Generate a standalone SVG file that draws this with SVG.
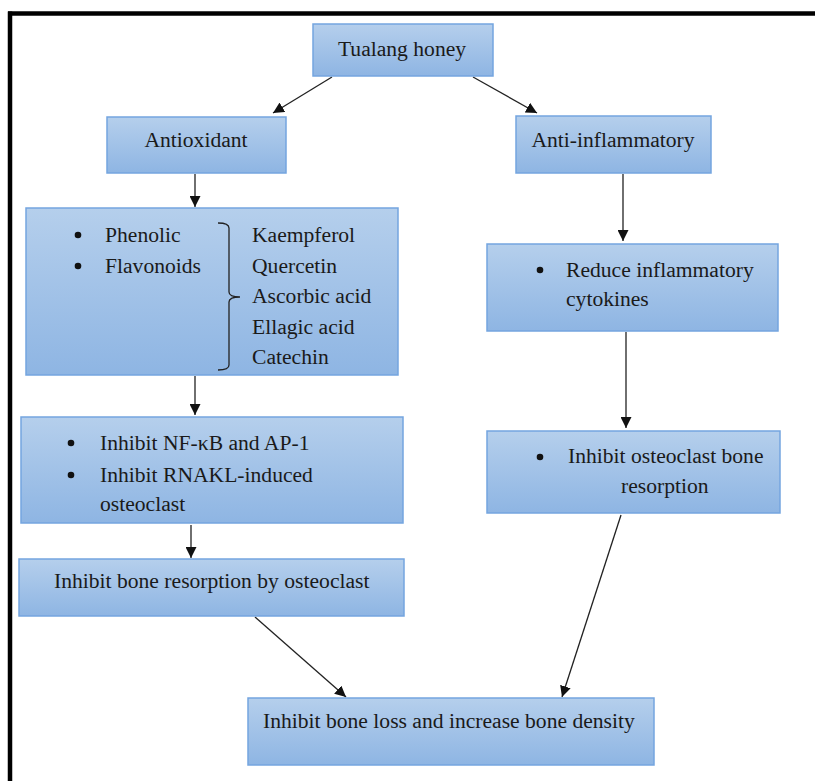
<svg xmlns="http://www.w3.org/2000/svg" width="815" height="781" viewBox="0 0 815 781">
<defs>
<linearGradient id="g" x1="0" y1="0" x2="0" y2="1">
<stop offset="0" stop-color="#b5cfec"/>
<stop offset="1" stop-color="#8eb5e3"/>
</linearGradient>
<marker id="ah" viewBox="0 0 10 10" refX="10" refY="5" markerWidth="11" markerHeight="11" markerUnits="userSpaceOnUse" orient="auto">
<path d="M0,0 L10,5 L0,10 Z" fill="#111"/>
</marker>
<style>
.box{fill:url(#g);stroke:#74a5df;stroke-width:1.5}
text{font-family:"Liberation Serif","Times New Roman",serif;font-size:21.6px;fill:#1a1a1a}
.c{text-anchor:middle}
.ln{stroke:#222;stroke-width:1.3;fill:none;marker-end:url(#ah)}
</style>
</defs>
<rect width="815" height="781" fill="#fff"/>
<g id="frame">
<line x1="8" y1="13.5" x2="815" y2="13.5" stroke="#000" stroke-width="4.5"/>
<line x1="10" y1="11.5" x2="10" y2="781" stroke="#000" stroke-width="4.5"/>
</g>
<g id="connectors">
<line class="ln" x1="332" y1="77" x2="273" y2="113"/>
<line class="ln" x1="473" y1="77" x2="537" y2="113"/>
<line class="ln" x1="195" y1="174" x2="195" y2="207"/>
<line class="ln" x1="623" y1="174" x2="623" y2="241"/>
<line class="ln" x1="195" y1="376" x2="195" y2="415"/>
<line class="ln" x1="191" y1="525" x2="191" y2="558"/>
<line class="ln" x1="626" y1="332" x2="626" y2="428"/>
<line class="ln" x1="255" y1="617" x2="346" y2="697"/>
<line class="ln" x1="621" y1="515" x2="562" y2="697"/>
</g>
<g id="tualang">
<rect class="box" x="313" y="24" width="180" height="52"/>
<text class="c" x="402" y="56">Tualang honey</text>
</g>
<g id="antioxidant">
<rect class="box" x="107" y="117" width="179" height="56"/>
<text class="c" x="196" y="147">Antioxidant</text>
</g>
<g id="antiinflammatory">
<rect class="box" x="516" y="116" width="195" height="57"/>
<text class="c" x="613" y="147">Anti-inflammatory</text>
</g>
<g id="phenolic">
<rect class="box" x="26" y="208" width="372" height="167"/>
<circle cx="78" cy="235" r="3.3" fill="#111"/>
<circle cx="78" cy="266" r="3.3" fill="#111"/>
<text x="105" y="242">Phenolic</text>
<text x="105" y="273">Flavonoids</text>
<path d="M218,223 Q229,223 229,228 L229,292 Q229,297 240,297 Q229,297 229,302 L229,365 Q229,370 218,370" fill="none" stroke="#222" stroke-width="1.3"/>
<text x="252" y="242">Kaempferol</text>
<text x="252" y="273">Quercetin</text>
<text x="252" y="303">Ascorbic acid</text>
<text x="252" y="334">Ellagic acid</text>
<text x="252" y="364">Catechin</text>
</g>
<g id="nfkb">
<rect class="box" x="21" y="417" width="382" height="106"/>
<circle cx="71" cy="443" r="3.3" fill="#111"/>
<circle cx="71" cy="475" r="3.3" fill="#111"/>
<text x="100" y="450">Inhibit NF-κB and AP-1</text>
<text x="100" y="482">Inhibit RNAKL-induced</text>
<text x="100" y="511">osteoclast</text>
</g>
<g id="resorption">
<rect class="box" x="19" y="559" width="385" height="57"/>
<text x="54" y="588">Inhibit bone resorption by osteoclast</text>
</g>
<g id="reduce">
<rect class="box" x="487" y="244" width="291" height="87"/>
<circle cx="540" cy="270" r="3.3" fill="#111"/>
<text x="566" y="277">Reduce inflammatory</text>
<text x="566" y="306">cytokines</text>
</g>
<g id="osteoclast">
<rect class="box" x="487" y="431" width="293" height="82"/>
<circle cx="540" cy="457" r="3.3" fill="#111"/>
<text x="568" y="463">Inhibit osteoclast bone</text>
<text x="621" y="493">resorption</text>
</g>
<g id="boneloss">
<rect class="box" x="248" y="698" width="406" height="67"/>
<text x="263" y="728">Inhibit bone loss and increase bone density</text>
</g>
</svg>
